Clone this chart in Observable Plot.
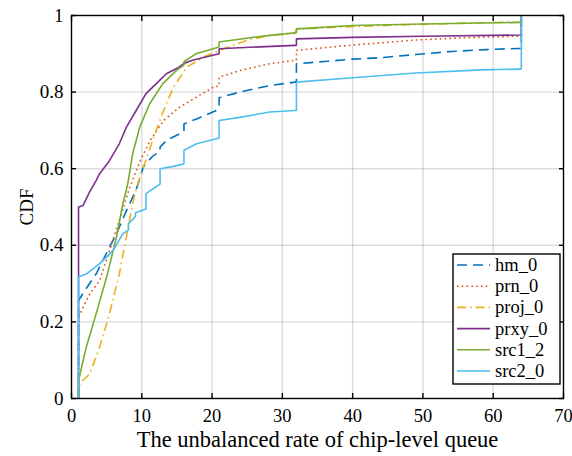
<!DOCTYPE html>
<html>
<head>
<meta charset="utf-8">
<script src="https://cdn.jsdelivr.net/npm/d3@7"></script>
<script src="https://cdn.jsdelivr.net/npm/@observablehq/plot@0.6"></script>
<style>
  html, body { margin: 0; padding: 0; background: #fff; }
  #wrap { position: relative; width: 572px; height: 456px; }
  #legend { position: absolute; left: 0; top: 0; pointer-events: none; }
</style>
</head>
<body>
<div id="wrap"></div>
<script>
// ---- data ----
const seriesNames = ["hm_0", "prn_0", "proj_0", "prxy_0", "src1_2", "src2_0"];
const seriesColors = ["#0072BD", "#D95319", "#EDB120", "#7E2F8E", "#77AC30", "#4DBEEE"];
const seriesDash = ["10,6", "1.6,3.2", "9,4,1.6,4", null, null, null];

const xTicks = [0, 10, 20, 30, 40, 50, 60, 70];
const yTicks = [0, 0.2, 0.4, 0.6, 0.8, 1];

const hm0X = [1, 1, 2, 3.5, 5.4, 6.4, 7.8, 9.2, 10.25, 11.5, 12.6, 12.6, 13.5, 15.8, 16, 16, 17.8, 20.6, 21, 21, 23.9, 28.2, 31.8, 32, 32, 36, 40, 44, 49, 54, 59, 63.5, 64, 64];
const hm0Y = [0, 0.256, 0.285, 0.325, 0.395, 0.43, 0.49, 0.545, 0.606, 0.632, 0.645, 0.656, 0.674, 0.695, 0.697, 0.717, 0.730, 0.752, 0.761, 0.785, 0.80, 0.817, 0.826, 0.826, 0.874, 0.880, 0.886, 0.890, 0.898, 0.906, 0.911, 0.914, 0.914, 1];

const prn0X = [1, 1, 1.65, 2.6, 4, 5.4, 6.8, 8.3, 9.8, 11.2, 13.1, 15.4, 17.8, 20.2, 21, 21, 23.9, 28.2, 31.8, 32, 32, 39.5, 49, 56, 63.5, 64, 64];
const prn0Y = [0, 0.212, 0.238, 0.273, 0.308, 0.386, 0.465, 0.552, 0.621, 0.674, 0.726, 0.761, 0.787, 0.813, 0.816, 0.839, 0.856, 0.874, 0.883, 0.883, 0.909, 0.922, 0.936, 0.942, 0.946, 0.946, 1];

const proj0X = [1, 1, 1.5, 2.6, 4, 5.4, 6.8, 7.8, 8.7, 9.4, 10.25, 11.7, 13.1, 14.5, 16.4, 18.7, 21.1, 24.9, 28.2, 31.8, 32, 36, 40, 48, 56, 64, 64];
const proj0Y = [0, 0.03, 0.045, 0.064, 0.134, 0.221, 0.325, 0.421, 0.51, 0.56, 0.605, 0.682, 0.752, 0.813, 0.865, 0.891, 0.909, 0.935, 0.948, 0.953, 0.964, 0.968, 0.971, 0.976, 0.980, 0.983, 1];

const prxy0X = [1, 1, 1.65, 2.6, 3.5, 4, 5.4, 6.8, 7.8, 9.2, 10.6, 12.5, 13.5, 15.3, 16, 17.2, 21, 21, 25.4, 31.8, 32, 32, 40, 50, 64, 64];
const prxy0Y = [0, 0.50, 0.504, 0.54, 0.569, 0.587, 0.621, 0.665, 0.708, 0.752, 0.796, 0.830, 0.848, 0.865, 0.875, 0.883, 0.900, 0.913, 0.917, 0.922, 0.922, 0.939, 0.943, 0.946, 0.949, 1];

const src12X = [1, 1, 2.1, 3.5, 5, 6.4, 7.3, 8, 8.7, 9.7, 11.1, 13, 14.9, 15.8, 16, 16, 17.7, 21, 21, 25.4, 28.2, 31.8, 32, 32, 40, 50, 64, 64];
const src12Y = [0, 0.047, 0.134, 0.221, 0.317, 0.421, 0.508, 0.56, 0.639, 0.708, 0.769, 0.822, 0.856, 0.868, 0.870, 0.880, 0.900, 0.918, 0.931, 0.942, 0.948, 0.955, 0.955, 0.965, 0.974, 0.978, 0.982, 1];

const src20X = [1, 1, 2.1, 4, 5.9, 7.3, 8.1, 8.1, 9.1, 9.1, 10.6, 10.6, 12.6, 12.6, 14.5, 15.9, 16, 16, 17.8, 20.6, 21, 21, 23.9, 28.2, 31.8, 32, 32, 39.5, 49, 58.4, 63.8, 64, 64];
const src20Y = [0, 0.317, 0.325, 0.352, 0.386, 0.43, 0.44, 0.456, 0.475, 0.485, 0.495, 0.535, 0.56, 0.60, 0.606, 0.612, 0.613, 0.648, 0.665, 0.678, 0.680, 0.726, 0.734, 0.748, 0.752, 0.752, 0.826, 0.837, 0.850, 0.858, 0.860, 0.860, 1];

const xLabel = "The unbalanced rate of chip-level queue";
const yLabel = "CDF";

// ---- build tables ----
const seriesX = [hm0X, prn0X, proj0X, prxy0X, src12X, src20X];
const seriesY = [hm0Y, prn0Y, proj0Y, prxy0Y, src12Y, src20Y];
const tables = seriesNames.map((name, i) => seriesX[i].map((x, j) => ({series: name, x, y: seriesY[i][j]})));

const FONT = "'Liberation Serif', 'Times New Roman', serif";

const lineMarks = tables.map((t, i) => Plot.line(t, {
  x: "x", y: "y",
  stroke: seriesColors[i],
  strokeWidth: 1.6,
  strokeDasharray: seriesDash[i] || undefined,
  strokeLinejoin: "miter",
  strokeLinecap: "butt"
}));

const chart = Plot.plot({
  width: 572,
  height: 456,
  marginLeft: 71,
  marginRight: 9,
  marginTop: 15,
  marginBottom: 58,
  style: {fontFamily: FONT, fontSize: "19px", color: "#000", background: "#fff", overflow: "visible"},
  x: {domain: [0, 70]},
  y: {domain: [0, 1]},
  marks: [
    Plot.gridX(xTicks.slice(1, -1), {stroke: "#262626", strokeOpacity: 0.16, strokeWidth: 1.4}),
    Plot.gridY(yTicks.slice(1, -1), {stroke: "#262626", strokeOpacity: 0.16, strokeWidth: 1.4}),
    ...lineMarks,
    Plot.frame({stroke: "#000", strokeWidth: 1.4}),
    // inward ticks on all four sides
    Plot.axisX(xTicks, {anchor: "bottom", tickSize: -5, tickFormat: () => "", label: null, strokeWidth: 1.4}),
    Plot.axisX(xTicks, {anchor: "top", tickSize: -5, tickFormat: () => "", label: null, strokeWidth: 1.4}),
    Plot.axisY(yTicks, {anchor: "left", tickSize: -5, tickFormat: () => "", label: null, strokeWidth: 1.4}),
    Plot.axisY(yTicks, {anchor: "right", tickSize: -5, tickFormat: () => "", label: null, strokeWidth: 1.4}),
    // tick labels
    Plot.axisX(xTicks, {anchor: "bottom", tickSize: 0, tickPadding: 10, label: null, fontSize: 18.5}),
    Plot.axisY(yTicks, {anchor: "left", tickSize: 0, tickPadding: 8, fontSize: 19, tickFormat: d => String(d),
      label: yLabel, labelAnchor: "center", labelOffset: 52, labelArrow: "none"}),
    // x axis title
    Plot.text([xLabel], {frameAnchor: "bottom", textAnchor: "middle", dy: 48, lineAnchor: "bottom", fontSize: 22.5, fill: "#000"})
  ]
});

const wrap = document.getElementById("wrap");
wrap.appendChild(chart);

// ---- legend overlay ----
const legend = d3.select(wrap).append("svg")
  .attr("id", "legend")
  .attr("width", 572).attr("height", 456)
  .style("font-family", FONT);

const box = {left: 453, top: 254, width: 107, height: 130};
legend.append("rect")
  .attr("x", box.left).attr("y", box.top)
  .attr("width", box.width).attr("height", box.height)
  .attr("fill", "#fff").attr("stroke", "#000").attr("stroke-width", 1.4);

const rowH = 21.2;
seriesNames.forEach((name, i) => {
  const cy = box.top + 11 + i * rowH;
  legend.append("line")
    .attr("x1", box.left + 4).attr("x2", box.left + 37)
    .attr("y1", cy).attr("y2", cy)
    .attr("stroke", seriesColors[i]).attr("stroke-width", 1.6)
    .attr("stroke-dasharray", seriesDash[i]);
  legend.append("text")
    .attr("x", box.left + 42).attr("y", cy)
    .attr("dy", "0.32em")
    .attr("font-size", 18.5)
    .attr("fill", "#000")
    .text(name);
});
</script>
</body>
</html>
